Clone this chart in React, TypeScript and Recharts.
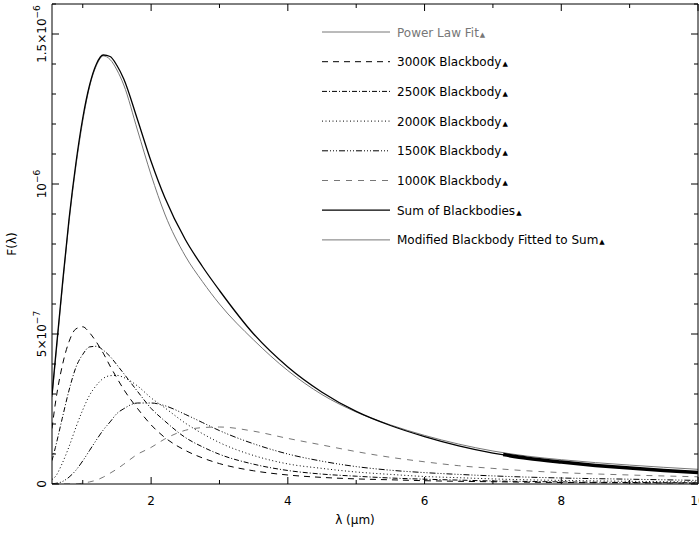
import React from "react";
import { LineChart, Line, XAxis, YAxis } from "recharts";

// wavelength grid (μm) and flux values in units of 1e-7
const lambda = [0.55, 0.6, 0.7, 0.8, 0.9, 1.0, 1.1, 1.2, 1.3, 1.4, 1.5, 1.6, 1.8, 2.0, 2.2, 2.5, 2.75, 3.0, 3.5, 4.0, 4.5, 5.0, 5.5, 6.0, 6.5, 7.0, 7.5, 8.0, 9.0, 10.0];
const bb3000 = [1.85, 2.7, 3.94, 4.75, 5.17, 5.24, 5.04, 4.73, 4.36, 3.93, 3.53, 3.15, 2.52, 1.97, 1.55, 1.12, 0.87, 0.68, 0.44, 0.3, 0.22, 0.17, 0.14, 0.11, 0.09, 0.075, 0.06, 0.05, 0.04, 0.03];
const bb2500 = [0.78, 1.22, 2.19, 3.13, 3.89, 4.32, 4.57, 4.59, 4.46, 4.25, 3.97, 3.68, 3.09, 2.52, 2.1, 1.55, 1.24, 0.99, 0.66, 0.45, 0.33, 0.26, 0.2, 0.16, 0.13, 0.1, 0.085, 0.07, 0.05, 0.04];
const bb2000 = [0.15, 0.25, 0.69, 1.25, 1.89, 2.47, 2.96, 3.29, 3.52, 3.61, 3.62, 3.55, 3.27, 2.87, 2.54, 2.03, 1.68, 1.38, 0.95, 0.67, 0.52, 0.4, 0.32, 0.25, 0.21, 0.17, 0.14, 0.12, 0.09, 0.07];
const bb1500 = [0.01, 0.02, 0.08, 0.23, 0.46, 0.77, 1.12, 1.47, 1.8, 2.07, 2.35, 2.51, 2.7, 2.7, 2.61, 2.32, 2.05, 1.78, 1.34, 1.0, 0.76, 0.58, 0.46, 0.38, 0.32, 0.27, 0.23, 0.2, 0.16, 0.12];
const bb1000 = [0, 0, 0, 0, 0, 0.03, 0.07, 0.13, 0.23, 0.36, 0.5, 0.66, 0.99, 1.22, 1.5, 1.79, 1.88, 1.9, 1.76, 1.52, 1.3, 1.08, 0.89, 0.74, 0.61, 0.52, 0.44, 0.38, 0.3, 0.24];
const sumBB = [2.97, 4.2, 6.6, 8.85, 10.7, 12.2, 13.3, 14.0, 14.3, 14.25, 13.95, 13.5, 12.15, 10.75, 9.55, 8.15, 7.25, 6.45, 5.0, 3.9, 3.06, 2.42, 1.95, 1.58, 1.27, 1.03, 0.86, 0.73, 0.53, 0.38];
const modBB = [2.9, 4.1, 6.5, 8.75, 10.6, 12.1, 13.25, 13.95, 14.27, 14.15, 13.8, 13.3, 11.8, 10.3, 9.0, 7.6, 6.75, 6.0, 4.8, 3.78, 2.98, 2.4, 1.97, 1.62, 1.33, 1.1, 0.93, 0.81, 0.63, 0.49];

const fitLambda = [7.15, 7.5, 8, 8.5, 9, 9.5, 10];
const powerLawFit = [0.98, 0.86, 0.73, 0.62, 0.53, 0.45, 0.38];

const xTicks = [1, 2, 3, 4, 5, 6, 7, 8, 9, 10];
const yTicks = [0, 1, 2, 3, 4, 5, 6, 7, 8, 9, 10, 11, 12, 13, 14, 15, 16];
const yLabels: Record<number, [string, string]> = {
  0: ["0", ""],
  5: ["5×10", "−7"],
  10: ["10", "−6"],
  15: ["1.5×10", "−6"],
};

const legendLabels = [
  "Power Law Fit",
  "3000K Blackbody",
  "2500K Blackbody",
  "2000K Blackbody",
  "1500K Blackbody",
  "1000K Blackbody",
  "Sum of Blackbodies",
  "Modified Blackbody Fitted to Sum",
];

const GRAY = "#777";
const styles = [
  { stroke: GRAY, dash: undefined, width: 1 },
  { stroke: "#000", dash: "6 5", width: 1 },
  { stroke: "#000", dash: "5 2 1 2", width: 1 },
  { stroke: "#000", dash: "1 2.5", width: 1 },
  { stroke: "#000", dash: "6 2 1 2 1 2 1 2", width: 1 },
  { stroke: GRAY, dash: "6 6", width: 1 },
  { stroke: "#000", dash: undefined, width: 1.3 },
  { stroke: GRAY, dash: undefined, width: 1 },
];

const data = lambda.map((l, i) => ({
  lambda: l,
  t3000: bb3000[i],
  t2500: bb2500[i],
  t2000: bb2000[i],
  t1500: bb1500[i],
  t1000: bb1000[i],
  sum: sumBB[i],
  mod: modBB[i],
}));
const fitData = fitLambda.map((l, i) => ({ lambda: l, fit: powerLawFit[i] }));

const FONT = "DejaVu Sans, sans-serif";

function XTick(props: any) {
  const { x, y, payload, top } = props;
  const major = payload.value % 2 === 0;
  const len = major ? 7 : 4;
  return (
    <g>
      <line x1={x} x2={x} y1={y} y2={top ? y + len : y - len} stroke="#000" />
      {!top && major && (
        <text x={x} y={y + 21} textAnchor="middle" fontSize={12} fontFamily={FONT} fill="#000">
          {payload.value}
        </text>
      )}
    </g>
  );
}

function YTick(props: any) {
  const { x, y, payload, right } = props;
  const lab = yLabels[payload.value];
  const len = lab ? 7 : 4;
  return (
    <g>
      <line x1={x} x2={right ? x - len : x + len} y1={y} y2={y} stroke="#000" />
      {!right && lab && (
        <text
          x={46}
          y={y}
          transform={`rotate(-90, 46, ${y})`}
          textAnchor="middle"
          fontSize={12}
          fontFamily={FONT}
          fill="#000"
        >
          {lab[0]}
          {lab[1] && (
            <tspan dy={-6} fontSize={9}>
              {lab[1]}
            </tspan>
          )}
        </text>
      )}
    </g>
  );
}

function Overlay() {
  return (
    <svg width={699} height={537} style={{ position: "absolute", left: 0, top: 0, pointerEvents: "none" }}>
      <text x={16} y={244} transform="rotate(-90, 16, 244)" textAnchor="middle" fontSize={12} fontFamily={FONT} fill="#000">
        F(λ)
      </text>
      <text x={355} y={524} textAnchor="middle" fontSize={12} fontFamily={FONT} fill="#000">
        λ (μm)
      </text>
      {legendLabels.map((name, i) => {
        const s = styles[i];
        const y = 32 + i * 29.7;
        return (
          <g key={name}>
            <line x1={322} x2={390} y1={y} y2={y} stroke={s.stroke} strokeDasharray={s.dash} strokeWidth={s.width} />
            <text x={397} y={y + 4.5} fontSize={12} fontFamily={FONT} fill={i === 0 ? GRAY : "#000"}>
              {name}
              <tspan fontSize={7} dx={1}>▲</tspan>
            </text>
          </g>
        );
      })}
    </svg>
  );
}

const series = [
  { key: "t3000", s: styles[1] },
  { key: "t2500", s: styles[2] },
  { key: "t2000", s: styles[3] },
  { key: "t1500", s: styles[4] },
  { key: "t1000", s: styles[5] },
  { key: "mod", s: styles[7] },
  { key: "sum", s: styles[6] },
];

const axisCommon = {
  allowDataOverflow: true,
  interval: 0 as const,
  tickSize: 0,
  tickMargin: 0,
  tickLine: false,
  axisLine: { stroke: "#000" },
};

export default function App() {
  return (
    <div style={{ position: "absolute", left: 0, top: 0, width: 699, height: 537, background: "#fff", fontFamily: FONT }}>
      <LineChart width={699} height={537} data={data} margin={{ top: 3, right: 0, bottom: 52, left: 51 }}>
        <XAxis
          {...axisCommon}
          xAxisId="b"
          type="number"
          dataKey="lambda"
          domain={[0.55, 10]}
          ticks={xTicks}
          height={1}
          tick={(p: any) => <XTick {...p} />}
        />
        <XAxis
          {...axisCommon}
          xAxisId="t"
          orientation="top"
          type="number"
          dataKey="lambda"
          domain={[0.55, 10]}
          ticks={xTicks}
          height={1}
          tick={(p: any) => <XTick {...p} top />}
        />
        <YAxis
          {...axisCommon}
          yAxisId="l"
          type="number"
          domain={[0, 16]}
          ticks={yTicks}
          width={1}
          tick={(p: any) => <YTick {...p} />}
        />
        <YAxis
          {...axisCommon}
          yAxisId="r"
          orientation="right"
          type="number"
          domain={[0, 16]}
          ticks={yTicks}
          width={1}
          tick={(p: any) => <YTick {...p} right />}
        />
        {series.map(({ key, s }) => (
          <Line
            key={key}
            xAxisId="b"
            yAxisId="l"
            type="monotone"
            dataKey={key}
            stroke={s.stroke}
            strokeWidth={s.width}
            strokeDasharray={s.dash}
            dot={false}
            activeDot={false}
            isAnimationActive={false}
          />
        ))}
        <Line
          xAxisId="b"
          yAxisId="l"
          type="monotone"
          data={fitData}
          dataKey="fit"
          stroke="#000"
          strokeWidth={3.5}
          dot={false}
          activeDot={false}
          isAnimationActive={false}
        />
      </LineChart>
      <Overlay />
    </div>
  );
}
